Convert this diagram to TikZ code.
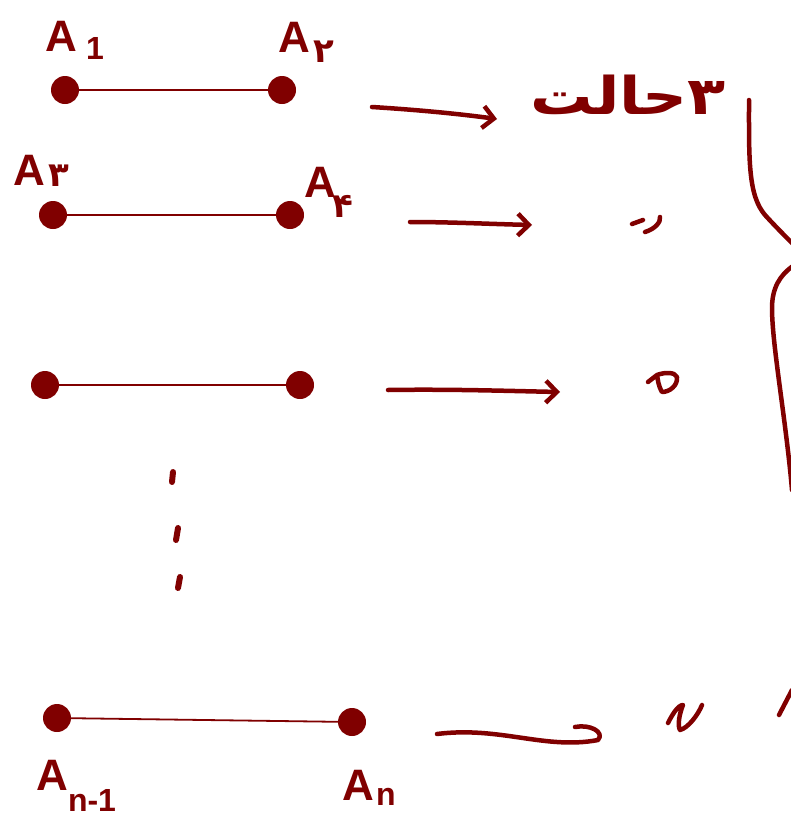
\documentclass[tikz,border=0pt]{standalone}
\usepackage{fontspec}
\setmainfont{Liberation Sans}
\newfontfamily\fa[Script=Arabic]{DejaVu Sans}
\TeXXeTstate=1
\usetikzlibrary{arrows.meta}
\definecolor{ink}{HTML}{800000}
\tikzset{
  dot/.style={circle,fill=ink,inner sep=0pt,minimum size=28pt},
  seg/.style={draw=ink,line width=1.8pt},
  stroke/.style={draw=ink,line width=4.5pt,line cap=round,line join=round},
  arr/.style={stroke,-{Straight Barb[length=11pt,width=22pt,line width=4.5pt]}},
  lab/.style={text=ink,font=\fontsize{44}{44}\selectfont\bfseries,inner sep=0pt},
  sub/.style={text=ink,font=\fontsize{32}{32}\selectfont\bfseries,inner sep=0pt},
  fasub/.style={text=ink,font=\fontsize{34}{34}\fa\bfseries,inner sep=0pt},
}
\begin{document}
\begin{tikzpicture}[x=1pt,y=-1pt]
\useasboundingbox (0,0) rectangle (791,833);
% dots
\node[dot] (d1) at (65,90) {};
\node[dot] (d2) at (282,90) {};
\node[dot] (d3) at (53,215) {};
\node[dot] (d4) at (290,215) {};
\node[dot] (d5) at (45,385) {};
\node[dot] (d6) at (300,385) {};
\node[dot] (d7) at (57,718) {};
\node[dot] (d8) at (352,722) {};
\draw[seg] (d1) -- (d2);
\draw[seg] (d3) -- (d4);
\draw[seg] (d5) -- (d6);
\draw[seg] (d7) -- (d8);
% labels
\node[lab] (l1) at (61,36) {A};
\node[sub] (s1) at (95,48) {1};
\node[lab] (l2) at (294,37) {A};
\node[fasub] (s2) at (324,52) {۲};
\node[lab] (l3) at (29,170) {A};
\node[fasub] (s3) at (59,176) {۳};
\node[lab] (l4) at (320,182) {A};
\node[fasub] (s4) at (343,206) {۴};
\node[lab] (l7) at (52,775) {A};
\node[sub] (s7) at (92,800) {n-1};
\node[lab] (l8) at (358,785) {A};
\node[sub] (s8) at (386,797) {n};
% vertical dots
\draw[stroke,line width=6pt] (173,472) -- (172,482);
\draw[stroke,line width=6pt] (178,528) -- (176,540);
\draw[stroke,line width=6pt] (180,577) -- (178,588);
% arrows
\coordinate (a1s) at (372,107); \coordinate (a1e) at (497,119);
\coordinate (a2s) at (410,222); \coordinate (a2e) at (532,225);
\coordinate (a3s) at (388,390); \coordinate (a3e) at (560,392);
\coordinate (a4s) at (437,734); \coordinate (a4e) at (575,727);
\draw[arr] (a1s) .. controls (420,110) and (460,114) .. (a1e);
\draw[arr] (a2s) .. controls (450,222) and (490,224) .. (a2e);
\draw[arr] (a3s) .. controls (450,389) and (510,391) .. (a3e);
\draw[stroke] (a4s) .. controls (500,726) and (545,750) .. (598,740)
  .. controls (605,732) and (590,724) .. (a4e);
% text
\node[text=ink,inner sep=0pt,font=\fontsize{52}{52}\fa\bfseries,xscale=1.2] (t) at (628,95) {\beginR ۳حالت\endR};
% ditto marks
\draw[stroke] (632,224) -- (643,220);
\draw[stroke] (645,232) .. controls (655,229) and (661,222) .. (660,217);
\draw[stroke] (648,382) -- (657,375) .. controls (665,372) and (675,372) .. (677,377)
  .. controls (678,385) and (670,392) .. (662,392) .. controls (658,385) and (658,380) .. (657,375);
\draw[stroke] (668,723) .. controls (672,715) and (678,705) .. (683,705)
  .. controls (680,712) and (677,725) .. (680,730) .. controls (688,728) and (698,715) .. (702,705);
% brace
\draw[stroke] (749,100) .. controls (749,160) and (748,195) .. (765,215)
  .. controls (775,226) and (785,236) .. (793,244);
\draw[stroke] (793,266) .. controls (780,275) and (772,288) .. (772,308)
  .. controls (772,345) and (786,420) .. (792,490);
\draw[stroke] (779,715) -- (792,690);
\end{tikzpicture}
\end{document}
